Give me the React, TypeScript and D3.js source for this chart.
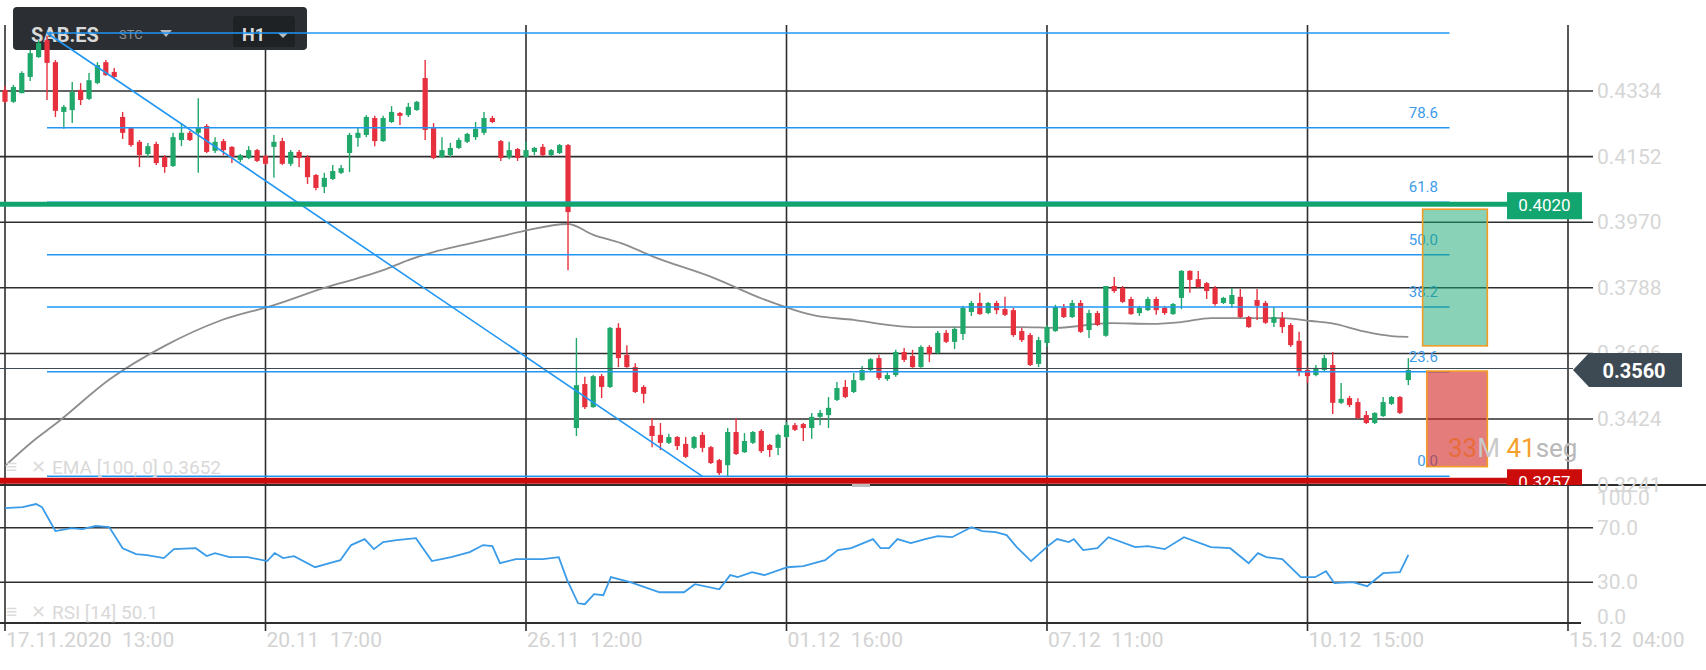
import React from "react";
import * as d3 from "d3";

const W = 1706;
const H = 670;

// ---- candle data (SAB.ES, H1) ----
const openP = [
  0.4337, 0.4304, 0.4328, 0.4373, 0.4428, 0.4475, 0.4414, 0.4276, 0.4281, 0.4337,
  0.4312, 0.4356, 0.4414, 0.4387, 0.4262, 0.4231, 0.4193, 0.4159, 0.4187, 0.4151,
  0.4126, 0.4198, 0.4218, 0.4218, 0.4237, 0.4168, 0.4195, 0.4179, 0.4143, 0.4148,
  0.4170, 0.4154, 0.4179, 0.4195, 0.4132, 0.4165, 0.4151, 0.4101, 0.4068, 0.4090,
  0.4107, 0.4162, 0.4204, 0.4212, 0.4259, 0.4195, 0.4248, 0.4273, 0.4267, 0.4281,
  0.4370, 0.4231, 0.4151, 0.4156, 0.4176, 0.4193, 0.4206, 0.4218, 0.4259, 0.4195,
  0.4151, 0.4173, 0.4151, 0.4165, 0.4179, 0.4156, 0.4162, 0.4184, 0.3399, 0.3521,
  0.3457, 0.3543, 0.3513, 0.3677, 0.3602, 0.3568, 0.3513, 0.3405, 0.3380, 0.3358,
  0.3374, 0.3355, 0.3344, 0.3380, 0.3346, 0.3310, 0.3296, 0.3388, 0.3332, 0.3358,
  0.3391, 0.3352, 0.3344, 0.3374, 0.3407, 0.3410, 0.3399, 0.3430, 0.3435, 0.3477,
  0.3513, 0.3499, 0.3532, 0.3560, 0.3593, 0.3535, 0.3546, 0.3610, 0.3599, 0.3568,
  0.3624, 0.3607, 0.3663, 0.3638, 0.3660, 0.3721, 0.3746, 0.3718, 0.3746, 0.3729,
  0.3726, 0.3668, 0.3657, 0.3577, 0.3635, 0.3668, 0.3732, 0.3707, 0.3746, 0.3671,
  0.3718, 0.3655, 0.3793, 0.3788, 0.3757, 0.3718, 0.3726, 0.3757, 0.3732, 0.3715,
  0.3760, 0.3835, 0.3812, 0.3801, 0.3788, 0.3746, 0.3743, 0.3763, 0.3707, 0.3754,
  0.3746, 0.3691, 0.3704, 0.3685, 0.3641, 0.3560, 0.3546, 0.3560, 0.3574, 0.3469,
  0.3482, 0.3471, 0.3435, 0.3413, 0.3432, 0.3466, 0.3485, 0.3532,
];
const highP = [
  0.4348, 0.4351, 0.4389, 0.4448, 0.4475, 0.4487, 0.4420, 0.4295, 0.4359, 0.4356,
  0.4384, 0.4414, 0.4420, 0.4398, 0.4276, 0.4234, 0.4198, 0.4190, 0.4193, 0.4156,
  0.4218, 0.4245, 0.4223, 0.4314, 0.4242, 0.4206, 0.4201, 0.4181, 0.4159, 0.4181,
  0.4173, 0.4156, 0.4212, 0.4204, 0.4170, 0.4170, 0.4156, 0.4104, 0.4107, 0.4129,
  0.4129, 0.4218, 0.4234, 0.4267, 0.4265, 0.4265, 0.4292, 0.4276, 0.4301, 0.4306,
  0.4420, 0.4245, 0.4206, 0.4190, 0.4204, 0.4218, 0.4248, 0.4276, 0.4265, 0.4198,
  0.4193, 0.4176, 0.4193, 0.4179, 0.4187, 0.4173, 0.4187, 0.4187, 0.3649, 0.3541,
  0.3546, 0.3549, 0.3679, 0.3690, 0.3629, 0.3579, 0.3518, 0.3427, 0.3413, 0.3383,
  0.3377, 0.3374, 0.3377, 0.3388, 0.3349, 0.3313, 0.3399, 0.3427, 0.3385, 0.3391,
  0.3396, 0.3355, 0.3383, 0.3416, 0.3413, 0.3413, 0.3441, 0.3449, 0.3485, 0.3527,
  0.3532, 0.3552, 0.3571, 0.3593, 0.3602, 0.3554, 0.3616, 0.3621, 0.3616, 0.3629,
  0.3629, 0.3668, 0.3671, 0.3679, 0.3738, 0.3752, 0.3774, 0.3749, 0.3752, 0.3763,
  0.3732, 0.3677, 0.3663, 0.3652, 0.3685, 0.3741, 0.3743, 0.3754, 0.3754, 0.3727,
  0.3724, 0.3793, 0.3818, 0.3793, 0.3763, 0.3738, 0.3763, 0.3763, 0.3738, 0.3746,
  0.3837, 0.3837, 0.3835, 0.3804, 0.3793, 0.3763, 0.3788, 0.3785, 0.3710, 0.3785,
  0.3752, 0.3735, 0.3721, 0.3690, 0.3666, 0.3568, 0.3574, 0.3602, 0.3610, 0.3524,
  0.3488, 0.3482, 0.3446, 0.3443, 0.3485, 0.3488, 0.3488, 0.3593,
];
const lowP = [
  0.4301, 0.4301, 0.4328, 0.4362, 0.4426, 0.4309, 0.4262, 0.4229, 0.4245, 0.4295,
  0.4309, 0.4353, 0.4376, 0.4370, 0.4201, 0.4179, 0.4123, 0.4151, 0.4129, 0.4107,
  0.4123, 0.4181, 0.4195, 0.4107, 0.4162, 0.4162, 0.4156, 0.4134, 0.4137, 0.4145,
  0.4137, 0.4129, 0.4093, 0.4129, 0.4126, 0.4123, 0.4076, 0.4059, 0.4051, 0.4087,
  0.4104, 0.4109, 0.4179, 0.4206, 0.4181, 0.4193, 0.4245, 0.4240, 0.4262, 0.4279,
  0.4198, 0.4145, 0.4148, 0.4151, 0.4173, 0.4190, 0.4198, 0.4212, 0.4245, 0.4140,
  0.4145, 0.4140, 0.4148, 0.4156, 0.4154, 0.4154, 0.4159, 0.3837, 0.3377, 0.3452,
  0.3455, 0.3482, 0.3510, 0.3568, 0.3566, 0.3496, 0.3468, 0.3346, 0.3338, 0.3355,
  0.3338, 0.3316, 0.3341, 0.3332, 0.3299, 0.3269, 0.3263, 0.3324, 0.3330, 0.3355,
  0.3330, 0.3319, 0.3324, 0.3371, 0.3391, 0.3363, 0.3369, 0.3407, 0.3399, 0.3474,
  0.3482, 0.3496, 0.3530, 0.3557, 0.3532, 0.3530, 0.3541, 0.3582, 0.3566, 0.3566,
  0.3582, 0.3604, 0.3635, 0.3618, 0.3643, 0.3710, 0.3713, 0.3715, 0.3715, 0.3710,
  0.3652, 0.3638, 0.3571, 0.3568, 0.3624, 0.3666, 0.3704, 0.3704, 0.3663, 0.3649,
  0.3682, 0.3652, 0.3774, 0.3746, 0.3713, 0.3710, 0.3724, 0.3713, 0.3713, 0.3713,
  0.3729, 0.3774, 0.3788, 0.3757, 0.3738, 0.3743, 0.3732, 0.3704, 0.3677, 0.3699,
  0.3688, 0.3679, 0.3663, 0.3624, 0.3543, 0.3524, 0.3543, 0.3557, 0.3438, 0.3466,
  0.3457, 0.3424, 0.3410, 0.3410, 0.3430, 0.3463, 0.3438, 0.3518,
];
const closeP = [
  0.4304, 0.4345, 0.4384, 0.4439, 0.4467, 0.4412, 0.4279, 0.4290, 0.4331, 0.4309,
  0.4364, 0.4406, 0.4378, 0.4373, 0.4218, 0.4184, 0.4156, 0.4181, 0.4134, 0.4123,
  0.4206, 0.4218, 0.4198, 0.4234, 0.4165, 0.4193, 0.4170, 0.4151, 0.4156, 0.4170,
  0.4140, 0.4132, 0.4193, 0.4132, 0.4165, 0.4148, 0.4095, 0.4065, 0.4093, 0.4112,
  0.4120, 0.4212, 0.4218, 0.4262, 0.4195, 0.4259, 0.4276, 0.4265, 0.4290, 0.4304,
  0.4226, 0.4148, 0.4170, 0.4176, 0.4198, 0.4215, 0.4229, 0.4259, 0.4248, 0.4148,
  0.4170, 0.4148, 0.4170, 0.4176, 0.4156, 0.4170, 0.4184, 0.3998, 0.3518, 0.3457,
  0.3543, 0.3513, 0.3677, 0.3593, 0.3568, 0.3499, 0.3494, 0.3377, 0.3358, 0.3374,
  0.3349, 0.3319, 0.3374, 0.3344, 0.3302, 0.3274, 0.3388, 0.3327, 0.3363, 0.3388,
  0.3335, 0.3338, 0.3380, 0.3407, 0.3394, 0.3399, 0.3430, 0.3441, 0.3455, 0.3510,
  0.3485, 0.3532, 0.3560, 0.3590, 0.3538, 0.3546, 0.3610, 0.3588, 0.3568, 0.3624,
  0.3604, 0.3663, 0.3638, 0.3674, 0.3732, 0.3746, 0.3715, 0.3746, 0.3726, 0.3713,
  0.3657, 0.3643, 0.3574, 0.3643, 0.3679, 0.3735, 0.3707, 0.3746, 0.3666, 0.3718,
  0.3685, 0.3793, 0.3779, 0.3749, 0.3715, 0.3732, 0.3757, 0.3726, 0.3718, 0.3743,
  0.3835, 0.3810, 0.3790, 0.3779, 0.3743, 0.3760, 0.3768, 0.3707, 0.3679, 0.3738,
  0.3691, 0.3707, 0.3679, 0.3629, 0.3557, 0.3543, 0.3566, 0.3593, 0.3469, 0.3480,
  0.3463, 0.3427, 0.3413, 0.3441, 0.3471, 0.3485, 0.3441, 0.3560,
];

// EMA(100): bar index / value
const emaIdx = [0, 3.5, 6, 12.5, 19, 25.5, 32, 38, 42, 45, 48, 51, 54.6, 58.7, 61.8, 67, 70, 73.3, 77.2, 84.4, 90.2, 96.6, 101, 105, 108, 113, 121, 125, 131.6, 136.4, 140, 143.5, 152.2, 155.4, 157.8, 161.7, 165, 167];
const emaVal = [0.3294, 0.3366, 0.341, 0.3535, 0.3627, 0.3696, 0.374, 0.3788, 0.3815, 0.3837, 0.3865, 0.3887, 0.3907, 0.3929, 0.3946, 0.3965, 0.3935, 0.3912, 0.3874, 0.3815, 0.3757, 0.371, 0.3699, 0.3685, 0.3679, 0.3679, 0.3679, 0.3677, 0.369, 0.3688, 0.3693, 0.3704, 0.3704, 0.3696, 0.369, 0.3667, 0.3654, 0.3652];

// RSI(14): bar index / value
const rsiIdx = [0, 2.1, 3.7, 4.4, 6, 7.9, 9.2, 10.8, 12.4, 14, 15.6, 16.9, 18.9, 20.1, 22.7, 24, 25, 26.7, 28.9, 31.2, 32.1, 33.1, 34.4, 36.9, 38.2, 39.9, 41.2, 42.8, 43.9, 45, 46.6, 48.9, 50.8, 53.1, 55.3, 56.9, 58, 58.9, 60.8, 64, 65.9, 66.9, 68.2, 69, 70.1, 71.2, 72.1, 74.4, 77.9, 80.8, 82.1, 85, 86.3, 87.2, 88.9, 90.4, 93.1, 95, 97.6, 99.1, 100.7, 103.3, 104.2, 105.2, 106.2, 107.8, 109.5, 111, 112.7, 115, 116.3, 117.9, 119.2, 120.4, 122.1, 124.1, 125.2, 126.6, 127.2, 128.3, 130, 131.3, 134.5, 136, 138, 140.3, 143.5, 145.8, 148, 149.1, 150.1, 152, 154.2, 155.9, 157.2, 158.2, 160.4, 162.1, 164, 166, 167];
const rsiVal = [84.5, 85.2, 87.5, 85.2, 67.6, 69.8, 69.0, 71.3, 70.5, 55.0, 50.6, 49.9, 47.7, 54.3, 55.0, 49.2, 51.4, 48.4, 48.4, 45.5, 51.4, 47.7, 49.2, 41.0, 43.3, 46.2, 57.3, 61.7, 54.3, 59.5, 60.9, 62.4, 45.5, 48.4, 52.1, 57.3, 56.5, 44.0, 46.9, 46.9, 48.4, 31.5, 14.5, 13.8, 21.2, 20.4, 33.7, 30.0, 22.6, 22.6, 28.5, 24.8, 35.2, 33.7, 37.4, 35.2, 41.0, 41.8, 46.2, 53.6, 55.0, 61.7, 55.0, 55.0, 61.7, 58.7, 61.7, 63.9, 63.1, 70.5, 67.6, 66.8, 64.6, 55.8, 45.5, 56.5, 61.7, 59.5, 61.7, 53.6, 55.0, 63.1, 55.8, 56.5, 54.3, 63.1, 55.8, 55.0, 44.0, 51.4, 48.4, 46.9, 33.7, 33.7, 38.1, 29.3, 30.0, 27.1, 36.6, 37.4, 50.1];

// axes
const priceTicks = [0.4334, 0.4152, 0.397, 0.3788, 0.3606, 0.3424, 0.3241];
const rsiTicks = [100, 70, 30, 0];
const rsiGrid = [70, 30];
const timeTickIdx = [0, 31, 62, 93, 124, 155, 186];
const timeDates = ["17.11.2020", "20.11", "26.11", "01.12", "07.12", "10.12", "15.12"];
const timeHours = ["13:00", "17:00", "12:00", "16:00", "11:00", "15:00", "04:00"];

// Fibonacci retracement (anchor high at bar 5, low at bar 83)
const fibHigh = 0.4495;
const fibLow = 0.3265;
const fibStartIdx = 5;
const fibEndIdx = 83;
const fibExtendIdx = 171.9;
const fibLevels = [100, 78.6, 61.8, 50, 38.2, 23.6, 0];

// levels / orders
const tpLevel = 0.402;
const slLevel = 0.3257;
const lastPrice = 0.356;
const tpBox = { i0: 168.7, i1: 176.4, p0: 0.3627, p1: 0.4006 };
const slBox = { i0: 169.2, i1: 176.4, p0: 0.3292, p1: 0.3557 };

const FONT = "Roboto, 'Noto Sans', sans-serif";
const GRID = "#2e2e2e";
const GREEN = "#20a86b";
const RED = "#e7303e";
const BLUE = "#2196f3";

export default function App() {
  const x = d3.scaleLinear().domain([0, 186]).range([5, 1568]);
  const y = d3.scaleLinear().domain([0.3241, 0.4334]).range([485, 91]);
  const yr = d3.scaleLinear().domain([0, 100]).range([623, 487]);

  const emaLine = d3
    .line<number>()
    .x((_, k) => x(emaIdx[k]))
    .y((v) => y(v))
    .curve(d3.curveMonotoneX)(emaVal) as string;

  const rsiLine = d3
    .line<number>()
    .x((_, k) => x(rsiIdx[k]))
    .y((v) => yr(v))(rsiVal) as string;

  const fibPrice = (r: number) => fibLow + (r / 100) * (fibHigh - fibLow);

  return (
    <svg
      width={W}
      height={H}
      viewBox={`0 0 ${W} ${H}`}
      style={{ position: "absolute", left: 0, top: 0, display: "block", background: "#fff" }}
      fontFamily={FONT}
    >
      <defs>
        <clipPath id="mainClip">
          <rect x={0} y={0} width={W} height={485} />
        </clipPath>
        <clipPath id="rsiClip">
          <rect x={0} y={486} width={1568} height={140} />
        </clipPath>
      </defs>
      <rect x={0} y={0} width={W} height={H} fill="#fff" />

      {/* horizontal price grid */}
      {priceTicks.slice(0, 6).map((p) => (
        <line key={p} x1={0} x2={1593} y1={y(p)} y2={y(p)} stroke={GRID} strokeWidth={1.6} />
      ))}
      {/* separator */}
      <line x1={0} x2={W} y1={485} y2={485} stroke={GRID} strokeWidth={1.8} />
      {/* RSI grid */}
      {rsiGrid.map((v) => (
        <line key={v} x1={0} x2={1593} y1={yr(v)} y2={yr(v)} stroke={GRID} strokeWidth={1.6} />
      ))}
      <line x1={0} x2={1581} y1={623} y2={623} stroke={GRID} strokeWidth={1.8} />
      {/* vertical grid */}
      {timeTickIdx.map((i) => (
        <line key={i} x1={x(i)} x2={x(i)} y1={25} y2={631} stroke={GRID} strokeWidth={1.6} />
      ))}

      {/* EMA */}
      <path d={emaLine} fill="none" stroke="#8d8d8d" strokeWidth={1.8} clipPath="url(#mainClip)" />

      {/* header */}
      <rect x={13} y={7} width={294} height={43} rx={4} fill="#2b2f33" />
      <rect x={233} y={16} width={62} height={31} rx={3} fill="#1f2225" />
      <text x={31} y={42} fontSize={20} fontWeight={700} fill="#d9d9d9">SAB.ES</text>
      <text x={119} y={39} fontSize={13} fill="#8c9094">STC</text>
      <path d="M160,30 L172,30 L166,37 Z" fill="#b8bbbe" />
      <text x={242} y={41} fontSize={18} fontWeight={700} fill="#dedede">H1</text>
      <path d="M278,33 L288,33 L283,38 Z" fill="#b8bbbe" />

      {/* candles */}
      <g clipPath="url(#mainClip)">
        {openP.map((o, i) => {
          const c = closeP[i];
          const up = c >= o;
          const col = up ? GREEN : RED;
          const cx = x(i);
          const top = y(Math.max(o, c));
          const bot = y(Math.min(o, c));
          return (
            <g key={i}>
              <line x1={cx} x2={cx} y1={y(highP[i])} y2={y(lowP[i])} stroke={col} strokeWidth={1.4} />
              <rect x={cx - 2.6} y={top} width={5.2} height={Math.max(1.5, bot - top)} fill={col} />
            </g>
          );
        })}
      </g>

      {/* Fibonacci */}
      <line x1={x(fibStartIdx)} y1={y(fibHigh)} x2={x(fibEndIdx)} y2={y(fibLow)} stroke={BLUE} strokeWidth={1.6} />
      {fibLevels.map((r) => (
        <line
          key={r}
          x1={x(fibStartIdx)}
          x2={x(fibExtendIdx)}
          y1={y(fibPrice(r))}
          y2={y(fibPrice(r))}
          stroke={BLUE}
          strokeWidth={1.5}
        />
      ))}

      {/* last price line */}
      <line x1={0} x2={1573} y1={y(lastPrice) - 1.5} y2={y(lastPrice) - 1.5} stroke="#3f4a52" strokeWidth={1.1} />

      {/* TP / SL lines */}
      <line x1={0} x2={1510} y1={y(tpLevel)} y2={y(tpLevel)} stroke="#12a46f" strokeWidth={5} />
      <line x1={0} x2={1510} y1={y(slLevel) + 1.5} y2={y(slLevel) + 1.5} stroke="#c90b0b" strokeWidth={6} clipPath="url(#mainClip)" />

      {/* fib labels (under the semi-transparent order boxes) */}
      {fibLevels
        .filter((r) => r !== 100)
        .map((r) => (
          <text
            key={r}
            x={1438}
            y={y(fibPrice(r)) - 10}
            fontSize={15}
            fill="#3d9bea"
            textAnchor="end"
          >
            {r.toFixed(1)}
          </text>
        ))}

      {/* order boxes */}
      <rect
        x={x(tpBox.i0)}
        y={y(tpBox.p1)}
        width={x(tpBox.i1) - x(tpBox.i0)}
        height={y(tpBox.p0) - y(tpBox.p1)}
        fill="#13a570"
        fillOpacity={0.5}
        stroke="#f39c24"
        strokeWidth={1.6}
      />
      <rect
        x={x(slBox.i0)}
        y={y(slBox.p1)}
        width={x(slBox.i1) - x(slBox.i0)}
        height={y(slBox.p0) - y(slBox.p1)}
        fill="#d42c2a"
        fillOpacity={0.62}
        stroke="#f39c24"
        strokeWidth={1.6}
      />

      {/* countdown */}
      <text x={1448} y={457} fontSize={26}>
        <tspan fill="#e86c3a">33</tspan>
        <tspan fill="#c9c9c9">M </tspan>
        <tspan fill="#f4a02a">41</tspan>
        <tspan fill="#b9b9b9">seg</tspan>
      </text>

      {/* price axis labels */}
      {priceTicks.map((p) => (
        <text key={p} x={1597} y={y(p) + 7} fontSize={21} fill="#d6d6d6">
          {p.toFixed(4)}
        </text>
      ))}
      {/* RSI axis labels */}
      {rsiTicks.map((v) => {
        const yy = v === 100 ? 505 : v === 0 ? 624 : yr(v) + 7;
        return (
          <text key={v} x={1597} y={yy} fontSize={21} fill="#d6d6d6">
            {v.toFixed(1)}
          </text>
        );
      })}

      {/* TP badge */}
      <rect x={1507} y={y(tpLevel) - 12} width={75} height={27} fill="#13a570" />
      <text x={1544.5} y={y(tpLevel) + 7} fontSize={17} fill="#fff" textAnchor="middle">
        {tpLevel.toFixed(4)}
      </text>
      {/* SL badge */}
      <g clipPath="url(#mainClip)">
        <rect x={1507} y={y(slLevel) - 10} width={75} height={27} fill="#cc0b0b" />
        <text x={1544.5} y={y(slLevel) + 9} fontSize={17} fill="#fff" textAnchor="middle">
          {slLevel.toFixed(4)}
        </text>
      </g>
      {/* last price badge */}
      <path
        d={`M1573,${y(lastPrice)} L1589,${y(lastPrice) - 17} L1682,${y(lastPrice) - 17} L1682,${y(lastPrice) + 17} L1589,${y(lastPrice) + 17} Z`}
        fill="#3e4a53"
      />
      <text x={1634} y={y(lastPrice) + 7.5} fontSize={20} fontWeight={700} fill="#fff" textAnchor="middle">
        {lastPrice.toFixed(4)}
      </text>

      {/* small marker on separator */}
      <rect x={852} y={484} width={18} height={3} fill="#bdbdbd" />

      {/* RSI */}
      <path d={rsiLine} fill="none" stroke="#3a9be8" strokeWidth={1.8} clipPath="url(#rsiClip)" />

      {/* indicator legends */}
      <text x={6} y={473} fontSize={19} fill="#dcdcdc">≡</text>
      <text x={31} y={473} fontSize={18} fill="#dcdcdc">✕</text>
      <text x={52} y={474} fontSize={19} fill="#d9d9d9">EMA [100,  0] 0.3652</text>
      <text x={6} y={618} fontSize={19} fill="#dcdcdc">≡</text>
      <text x={31} y={618} fontSize={18} fill="#dcdcdc">✕</text>
      <text x={52} y={619} fontSize={19} fill="#d9d9d9">RSI [14]  50.1</text>

      {/* time axis labels */}
      {timeTickIdx.map((i, k) => (
        <text key={i} x={x(i) + 1} y={647} fontSize={21} fill="#d3d3d3" style={{ whiteSpace: "pre" }}>
          {timeDates[k] + "  " + timeHours[k]}
        </text>
      ))}
    </svg>
  );
}
